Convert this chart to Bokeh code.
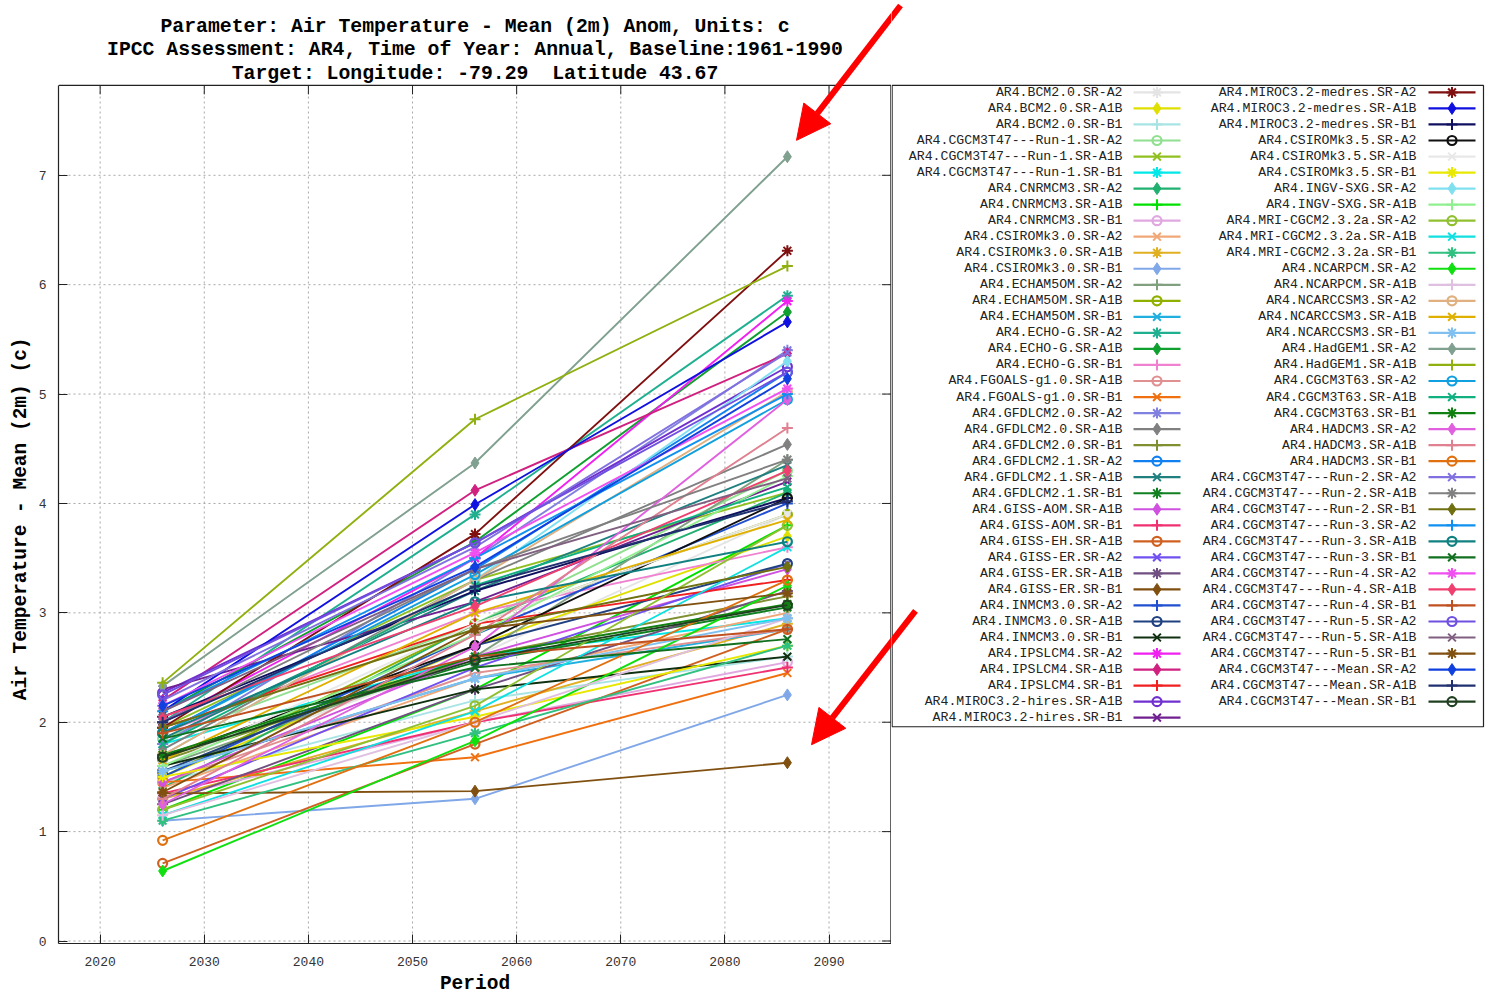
from bokeh.plotting import figure
from bokeh.models import Range1d, FixedTicker, Arrow, NormalHead
from bokeh.layouts import row
from bokeh.embed import file_html
from bokeh.resources import INLINE
from bokeh.core.properties import value

periods = [2026, 2056, 2086]

title_lines = [
    "Parameter: Air Temperature - Mean (2m) Anom, Units: c",
    "IPCC Assessment: AR4, Time of Year: Annual, Baseline:1961-1990",
    "Target: Longitude: -79.29 \u00a0Latitude 43.67",
]
y_label = "Air Temperature - Mean (2m) (c)"
x_label = "Period"

models = [
    "AR4.BCM2.0.SR-A2", "AR4.BCM2.0.SR-A1B", "AR4.BCM2.0.SR-B1",
    "AR4.CGCM3T47---Run-1.SR-A2", "AR4.CGCM3T47---Run-1.SR-A1B", "AR4.CGCM3T47---Run-1.SR-B1",
    "AR4.CNRMCM3.SR-A2", "AR4.CNRMCM3.SR-A1B", "AR4.CNRMCM3.SR-B1",
    "AR4.CSIROMk3.0.SR-A2", "AR4.CSIROMk3.0.SR-A1B", "AR4.CSIROMk3.0.SR-B1",
    "AR4.ECHAM5OM.SR-A2", "AR4.ECHAM5OM.SR-A1B", "AR4.ECHAM5OM.SR-B1",
    "AR4.ECHO-G.SR-A2", "AR4.ECHO-G.SR-A1B", "AR4.ECHO-G.SR-B1",
    "AR4.FGOALS-g1.0.SR-A1B", "AR4.FGOALS-g1.0.SR-B1",
    "AR4.GFDLCM2.0.SR-A2", "AR4.GFDLCM2.0.SR-A1B", "AR4.GFDLCM2.0.SR-B1",
    "AR4.GFDLCM2.1.SR-A2", "AR4.GFDLCM2.1.SR-A1B", "AR4.GFDLCM2.1.SR-B1",
    "AR4.GISS-AOM.SR-A1B", "AR4.GISS-AOM.SR-B1", "AR4.GISS-EH.SR-A1B",
    "AR4.GISS-ER.SR-A2", "AR4.GISS-ER.SR-A1B", "AR4.GISS-ER.SR-B1",
    "AR4.INMCM3.0.SR-A2", "AR4.INMCM3.0.SR-A1B", "AR4.INMCM3.0.SR-B1",
    "AR4.IPSLCM4.SR-A2", "AR4.IPSLCM4.SR-A1B", "AR4.IPSLCM4.SR-B1",
    "AR4.MIROC3.2-hires.SR-A1B", "AR4.MIROC3.2-hires.SR-B1",
    "AR4.MIROC3.2-medres.SR-A2", "AR4.MIROC3.2-medres.SR-A1B", "AR4.MIROC3.2-medres.SR-B1",
    "AR4.CSIROMk3.5.SR-A2", "AR4.CSIROMk3.5.SR-A1B", "AR4.CSIROMk3.5.SR-B1",
    "AR4.INGV-SXG.SR-A2", "AR4.INGV-SXG.SR-A1B",
    "AR4.MRI-CGCM2.3.2a.SR-A2", "AR4.MRI-CGCM2.3.2a.SR-A1B", "AR4.MRI-CGCM2.3.2a.SR-B1",
    "AR4.NCARPCM.SR-A2", "AR4.NCARPCM.SR-A1B",
    "AR4.NCARCCSM3.SR-A2", "AR4.NCARCCSM3.SR-A1B", "AR4.NCARCCSM3.SR-B1",
    "AR4.HadGEM1.SR-A2", "AR4.HadGEM1.SR-A1B",
    "AR4.CGCM3T63.SR-A2", "AR4.CGCM3T63.SR-A1B", "AR4.CGCM3T63.SR-B1",
    "AR4.HADCM3.SR-A2", "AR4.HADCM3.SR-A1B", "AR4.HADCM3.SR-B1",
    "AR4.CGCM3T47---Run-2.SR-A2", "AR4.CGCM3T47---Run-2.SR-A1B", "AR4.CGCM3T47---Run-2.SR-B1",
    "AR4.CGCM3T47---Run-3.SR-A2", "AR4.CGCM3T47---Run-3.SR-A1B", "AR4.CGCM3T47---Run-3.SR-B1",
    "AR4.CGCM3T47---Run-4.SR-A2", "AR4.CGCM3T47---Run-4.SR-A1B", "AR4.CGCM3T47---Run-4.SR-B1",
    "AR4.CGCM3T47---Run-5.SR-A2", "AR4.CGCM3T47---Run-5.SR-A1B", "AR4.CGCM3T47---Run-5.SR-B1",
    "AR4.CGCM3T47---Mean.SR-A2", "AR4.CGCM3T47---Mean.SR-A1B", "AR4.CGCM3T47---Mean.SR-B1",
]

colors = [
    "#e4e4e4", "#e0e000", "#a8e4e4",
    "#90e090", "#90c020", "#00e8e8",
    "#20b070", "#00e000", "#e0a8e0",
    "#f0a878", "#e0b020", "#80a8e8",
    "#80a080", "#90b000", "#20b0e0",
    "#20b090", "#10a030", "#f080d0",
    "#e09090", "#f07010",
    "#8080e0", "#808080", "#809030",
    "#1080f0", "#208080", "#108020",
    "#d050e0", "#f03070", "#d06020",
    "#7050f0", "#705080", "#805010",
    "#2050d0", "#204080", "#103010",
    "#f020f0", "#d02080", "#f02020",
    "#7030d0", "#702090",
    "#801010", "#1010e0", "#101060",
    "#101010", "#e8e8e8", "#e8e800",
    "#80e0f0", "#90f090",
    "#90c030", "#10e0e0", "#30c080",
    "#10e010", "#e0c0e0",
    "#e0b080", "#e0b000", "#80c0f0",
    "#80a090", "#90b010",
    "#10a0e0", "#10b080", "#108010",
    "#e060e0", "#e08090", "#e07010",
    "#8070e0", "#808080", "#707010",
    "#1090f0", "#108080", "#107020",
    "#f050f0", "#f04070", "#c05020",
    "#7050e0", "#806080", "#805010",
    "#1040e0", "#203070", "#204020",
]

v2026 = [
    1.55, 1.50, 1.45,
    1.85, 1.95, 1.80,
    1.40, 1.20, 1.30,
    1.40, 1.30, 1.10,
    1.60, 1.50, 1.55,
    2.00, 2.10, 1.90,
    1.45, 1.45,
    1.80, 1.75, 1.65,
    1.90, 1.85, 1.70,
    1.45, 1.35, 0.71,
    1.30, 1.25, 1.35,
    1.50, 1.55, 1.60,
    2.00, 2.20, 1.95,
    2.27, 2.30,
    1.95, 2.10, 2.05,
    1.68, 1.60, 1.50,
    1.70, 1.60,
    1.20, 1.15, 1.10,
    0.64, 1.15,
    1.70, 1.65, 1.55,
    2.33, 2.36,
    1.90, 1.80, 1.70,
    1.25, 1.30, 0.92,
    2.20, 2.00, 1.95,
    2.10, 1.90, 1.85,
    2.15, 2.05, 1.90,
    2.25, 2.10, 1.36,
    2.15, 2.00, 1.68,
]

v2056 = [
    2.60, 2.70, 2.20,
    2.90, 3.30, 2.60,
    2.90, 2.30, 2.00,
    2.40, 2.10, 1.30,
    2.60, 2.90, 2.40,
    3.90, 3.65, 3.00,
    2.45, 1.68,
    3.50, 3.30, 2.60,
    3.40, 3.20, 2.55,
    2.60, 2.00, 1.80,
    2.50, 2.30, 1.37,
    2.80, 2.70, 2.30,
    3.50, 4.12, 2.90,
    3.64, 3.10,
    3.72, 3.99, 3.20,
    2.70, 2.90, 2.05,
    3.30, 2.80,
    2.15, 2.10, 1.90,
    1.83, 2.00,
    3.30, 3.00, 2.40,
    4.37, 4.77,
    3.35, 3.25, 2.60,
    2.69, 2.80, 2.00,
    3.60, 3.40, 2.85,
    3.50, 3.10, 2.50,
    3.55, 3.06, 2.60,
    3.64, 3.40, 2.85,
    3.42, 3.24, 2.57,
]

v2086 = [
    3.90, 3.70, 2.60,
    4.30, 4.10, 2.95,
    4.10, 3.80, 2.55,
    3.00, 2.90, 2.25,
    4.40, 3.90, 2.85,
    5.90, 5.75, 3.60,
    2.85, 2.45,
    5.40, 4.54, 3.15,
    5.20, 4.35, 3.05,
    3.40, 2.50, 2.85,
    3.45, 3.20, 1.63,
    4.00, 3.45, 2.60,
    5.85, 5.37, 3.30,
    5.25, 4.20,
    6.31, 5.66, 4.05,
    4.05, 3.90, 2.70,
    5.30, 4.25,
    3.80, 3.60, 2.70,
    3.25, 2.95,
    5.02, 3.85, 2.95,
    7.17, 6.17,
    4.95, 4.15, 3.08,
    4.95, 4.69, 3.30,
    5.38, 4.40, 3.42,
    5.00, 3.65, 2.76,
    5.05, 4.30, 2.85,
    5.20, 4.23, 3.18,
    5.14, 4.02, 3.07,
]

x_ticks = [2020, 2030, 2040, 2050, 2060, 2070, 2080, 2090]
y_ticks = [0, 1, 2, 3, 4, 5, 6, 7]

marker_cycle = ["asterisk", "diamond", "cross", "circle", "x"]

MONO = "Liberation Mono"

# ---- geometry of the plotting box (layout, not data) ----
X0, X1 = 2016, 2096          # x extent of plot box
Y0, YTOP = -0.0228, 7.822    # y extent of plot box
YCANVAS = 8.598              # y value at the very top of the canvas
PX_PER_X = 833 / 80.0
PX_PER_Y = 109.5

p = figure(width=891, height=997, title=None,
           x_range=Range1d(X0, X1), y_range=Range1d(Y0, YCANVAS),
           output_backend="svg", toolbar_location=None,
           min_border_left=58, min_border_right=0, min_border_top=0, min_border_bottom=53)

p.outline_line_color = None
p.background_fill_color = "white"
p.border_fill_color = "white"
p.grid.visible = False

p.xaxis.ticker = FixedTicker(ticks=x_ticks)
p.yaxis.ticker = FixedTicker(ticks=y_ticks)
p.yaxis.bounds = (Y0, YTOP)
for ax in (p.xaxis[0], p.yaxis[0]):
    ax.major_tick_in = 9
    ax.major_tick_out = 0
    ax.minor_tick_line_color = None
    ax.major_tick_line_color = "#222222"
    ax.axis_line_color = "#222222"
    ax.axis_line_width = 1.2
    ax.major_label_text_font = MONO
    ax.major_label_text_font_size = "13px"
    ax.major_label_text_color = "#333333"
    ax.major_label_standoff = 12
    ax.axis_label_text_font = MONO
    ax.axis_label_text_font_size = "19.5px"
    ax.axis_label_text_font_style = "bold"
    ax.axis_label_text_color = "black"
p.xaxis.major_label_standoff = 13
p.xaxis.axis_label = x_label
# the canvas-tall frame centres the label too high; trailing no-break spaces move it down
p.yaxis.axis_label = y_label + "\u00a0" * 8
p.xaxis.axis_label_standoff = 4
p.yaxis.axis_label_standoff = 4

# dotted grid, bounded to the plot box
p.segment(x0=x_ticks, y0=[Y0] * len(x_ticks), x1=x_ticks, y1=[YTOP] * len(x_ticks),
          line_color="#a8a8a8", line_dash="2 3", line_width=1)
p.segment(x0=[X0] * len(y_ticks), y0=y_ticks, x1=[X1] * len(y_ticks), y1=y_ticks,
          line_color="#a8a8a8", line_dash="2 3", line_width=1)

# top and right borders of the box with mirrored ticks
XR = X1 - 0.6 / PX_PER_X
p.segment(x0=[X0], y0=[YTOP], x1=[X1], y1=[YTOP], line_color="#222222", line_width=1.2)
p.segment(x0=[XR], y0=[Y0], x1=[XR], y1=[YTOP], line_color="#222222", line_width=1.2)
p.segment(x0=x_ticks, y0=[YTOP] * len(x_ticks), x1=x_ticks,
          y1=[YTOP - 9 / PX_PER_Y] * len(x_ticks), line_color="#222222", line_width=1)
p.segment(x0=[XR] * len(y_ticks), y0=y_ticks, x1=[XR - 9 / PX_PER_X] * len(y_ticks),
          y1=y_ticks, line_color="#222222", line_width=1)

# title (three centred lines above the box)
title_px = [27, 50, 74]
p.text(x=[(X0 + X1) / 2] * 3, y=[(941.5 - t) / PX_PER_Y for t in title_px], text=title_lines,
       text_align="center", text_baseline="middle", text_font=value(MONO),
       text_font_size="19.8px", text_font_style="bold", text_color="black")

for i, name in enumerate(models):
    vals = [v2026[i], v2056[i], v2086[i]]
    c = colors[i]
    mk = marker_cycle[i % 5]
    p.line(periods, vals, line_color=c, line_width=1.9)
    if mk == "circle":
        p.scatter(periods, vals, marker="circle", size=9, line_color=c, fill_color=None, line_width=2.2)
    elif mk == "diamond":
        p.scatter(periods, vals, marker="diamond", size=12, line_color=c, fill_color=c, line_width=1)
    else:
        p.scatter(periods, vals, marker=mk, size=11, line_color=c, fill_color=None, line_width=2)


def px_to_x(px):
    return X0 + (px - 58) / PX_PER_X


def px_to_y(py):
    return (941.5 - py) / PX_PER_Y


arrows_px = [((900, 5), (796, 140)), ((915, 611), (811, 745))]
for (sx, sy), (ex, ey) in arrows_px:
    p.add_layout(Arrow(x_start=px_to_x(sx), y_start=px_to_y(sy), x_end=px_to_x(ex), y_end=px_to_y(ey),
                       line_color="red", line_width=6,
                       end=NormalHead(size=34, fill_color="red", line_color="red")))

# ---------------- legend panel ----------------
lg = figure(width=599, height=997, title=None,
            x_range=Range1d(0, 599), y_range=Range1d(944, 0),
            output_backend="svg", toolbar_location=None,
            x_axis_location=None, y_axis_location=None,
            min_border_left=0, min_border_right=0, min_border_top=0, min_border_bottom=53)
lg.grid.visible = False
lg.outline_line_color = None
lg.background_fill_color = "white"
lg.border_fill_color = "white"

lg.quad(left=0.6, right=592, top=85, bottom=727, fill_color=None, line_color="#222222", line_width=1.2)

n_first = 40
for i, name in enumerate(models):
    col = 0 if i < n_first else 1
    r = i if i < n_first else i - n_first
    yy = 92 + 16.05 * r
    tx = 231 if col == 0 else 525
    cx = 265.5 if col == 0 else 560.5
    c = colors[i]
    mk = marker_cycle[i % 5]
    lg.text([tx], [yy], text=[name], text_align="right", text_baseline="middle",
            text_font=value(MONO), text_font_size="13.2px", text_color="#222222")
    lg.segment([cx - 23.5], [yy], [cx + 23.5], [yy], line_color=c, line_width=2.2)
    if mk == "circle":
        lg.scatter([cx], [yy], marker="circle", size=9, line_color=c, fill_color=None, line_width=2.2)
    elif mk == "diamond":
        lg.scatter([cx], [yy], marker="diamond", size=12, line_color=c, fill_color=c, line_width=1)
    else:
        lg.scatter([cx], [yy], marker=mk, size=11, line_color=c, fill_color=None, line_width=2)

# continuation of the arrows where they cross into the legend panel
for (sx, sy), (ex, ey) in arrows_px:
    lg.add_layout(Arrow(x_start=sx - 891, y_start=sy, x_end=ex - 891, y_end=ey,
                        line_color="red", line_width=6,
                        end=NormalHead(size=34, fill_color="red", line_color="red")))

layout = row(p, lg)
open("out.html", "w").write(file_html(layout, INLINE))
